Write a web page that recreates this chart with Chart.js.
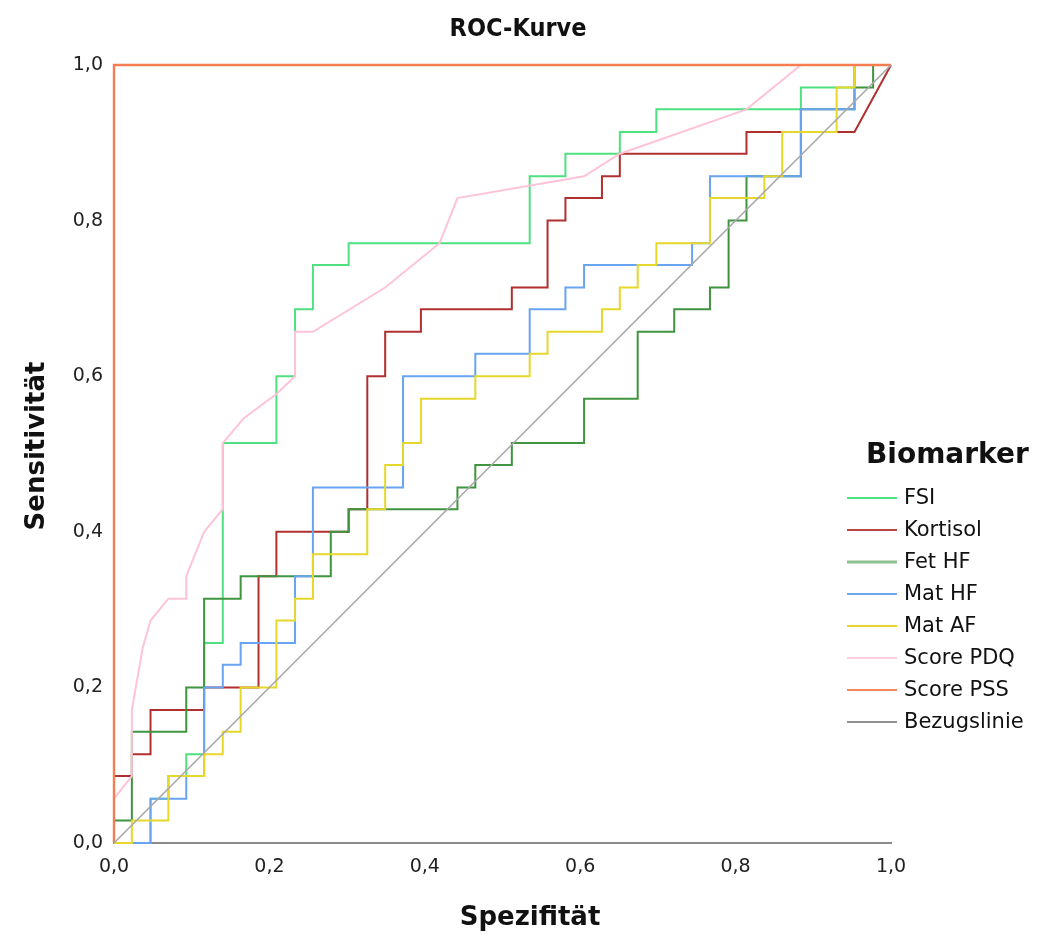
<!DOCTYPE html>
<html>
<head>
<meta charset="utf-8">
<script src="https://cdn.jsdelivr.net/npm/chart.js@4.4.0/dist/chart.umd.min.js"></script>
<style>
html,body{margin:0;padding:0;background:#ffffff;}
#wrap{width:1058px;height:942px;position:relative;}
canvas{display:block;}
</style>
</head>
<body>
<div id="wrap"><canvas id="c" width="1058" height="942"></canvas></div>
<script>
// ---- Data (x = 1 - Spezifität, y = Sensitivität) ----
const seriesNames = ["FSI","Kortisol","Fet HF","Mat HF","Mat AF","Score PDQ","Score PSS","Bezugslinie"];
const tickValues = [0, 0.2, 0.4, 0.6, 0.8, 1.0];

const fsiX = [0,0.047,0.047,0.070,0.070,0.093,0.093,0.116,0.116,0.140,0.140,0.209,0.209,0.233,0.233,0.256,0.256,0.302,0.302,0.535,0.535,0.581,0.581,0.651,0.651,0.698,0.698,0.884,0.884,0.953,0.953,1];
const fsiY = [0,0,0.057,0.057,0.086,0.086,0.114,0.114,0.257,0.257,0.514,0.514,0.600,0.600,0.686,0.686,0.743,0.743,0.771,0.771,0.857,0.857,0.886,0.886,0.914,0.914,0.943,0.943,0.971,0.971,1,1];

const kortisolX = [0,0,0.023,0.023,0.047,0.047,0.116,0.116,0.186,0.186,0.209,0.209,0.302,0.302,0.326,0.326,0.349,0.349,0.395,0.395,0.512,0.512,0.558,0.558,0.581,0.581,0.628,0.628,0.651,0.651,0.814,0.814,0.953,1];
const kortisolY = [0,0.086,0.086,0.114,0.114,0.171,0.171,0.200,0.200,0.343,0.343,0.400,0.400,0.429,0.429,0.600,0.600,0.657,0.657,0.686,0.686,0.714,0.714,0.800,0.800,0.829,0.829,0.857,0.857,0.886,0.886,0.914,0.914,1];

const fetHfX = [0,0,0.023,0.023,0.093,0.093,0.116,0.116,0.163,0.163,0.279,0.279,0.302,0.302,0.442,0.442,0.465,0.465,0.512,0.512,0.605,0.605,0.674,0.674,0.721,0.721,0.767,0.767,0.791,0.791,0.814,0.814,0.884,0.884,0.953,0.953,0.977,0.977,1];
const fetHfY = [0,0.029,0.029,0.143,0.143,0.200,0.200,0.314,0.314,0.343,0.343,0.400,0.400,0.429,0.429,0.457,0.457,0.486,0.486,0.514,0.514,0.571,0.571,0.657,0.657,0.686,0.686,0.714,0.714,0.800,0.800,0.857,0.857,0.943,0.943,0.971,0.971,1,1];

const matHfX = [0,0.047,0.047,0.093,0.093,0.116,0.116,0.140,0.140,0.163,0.163,0.233,0.233,0.256,0.256,0.372,0.372,0.465,0.465,0.535,0.535,0.581,0.581,0.605,0.605,0.744,0.744,0.767,0.767,0.884,0.884,0.953,0.953,1];
const matHfY = [0,0,0.057,0.057,0.086,0.086,0.200,0.200,0.229,0.229,0.257,0.257,0.343,0.343,0.457,0.457,0.600,0.600,0.629,0.629,0.686,0.686,0.714,0.714,0.743,0.743,0.771,0.771,0.857,0.857,0.943,0.943,1,1];

const matAfX = [0,0.023,0.023,0.070,0.070,0.116,0.116,0.140,0.140,0.163,0.163,0.209,0.209,0.233,0.233,0.256,0.256,0.326,0.326,0.349,0.349,0.372,0.372,0.395,0.395,0.465,0.465,0.535,0.535,0.558,0.558,0.628,0.628,0.651,0.651,0.674,0.674,0.698,0.698,0.767,0.767,0.837,0.837,0.860,0.860,0.930,0.930,0.953,0.953,1];
const matAfY = [0,0,0.029,0.029,0.086,0.086,0.114,0.114,0.143,0.143,0.200,0.200,0.286,0.286,0.314,0.314,0.371,0.371,0.429,0.429,0.486,0.486,0.514,0.514,0.571,0.571,0.600,0.600,0.629,0.629,0.657,0.657,0.686,0.686,0.714,0.714,0.743,0.743,0.771,0.771,0.829,0.829,0.857,0.857,0.914,0.914,0.971,0.971,1,1];

const pdqX = [0,0,0.023,0.023,0.028,0.037,0.047,0.070,0.093,0.093,0.116,0.140,0.140,0.167,0.209,0.233,0.233,0.256,0.349,0.419,0.442,0.605,0.651,0.814,0.884,1];
const pdqY = [0,0.057,0.086,0.171,0.200,0.251,0.286,0.314,0.314,0.343,0.400,0.429,0.514,0.546,0.577,0.600,0.657,0.657,0.714,0.771,0.829,0.857,0.886,0.943,1,1];

const pssX = [0,0,1];
const pssY = [0,1,1];

const refX = [0,1];
const refY = [0,1];

const seriesColors = ["#4fe07f","#b03030","#3f943f","#68a4f2","#e6d82a","#ffc3d9","#f47d52","#a8a8a8"];
const legendColors = ["#4fe07f","#b84848","#8cc08c","#6fa8f2","#e6d82a","#ffcfe0","#f4865c","#909090"];

// ---- Build datasets ----
function pts(xs, ys){ return xs.map((x,i)=>({x:x, y:ys[i]})); }
const xsList = [fsiX,kortisolX,fetHfX,matHfX,matAfX,pdqX,pssX,refX];
const ysList = [fsiY,kortisolY,fetHfY,matHfY,matAfY,pdqY,pssY,refY];
const datasets = seriesNames.map((name,k)=>({
  label: name,
  data: pts(xsList[k], ysList[k]),
  showLine: true,
  borderColor: seriesColors[k],
  backgroundColor: seriesColors[k],
  borderWidth: k===7 ? 1.6 : (k===6 ? 2.4 : 2),
  pointRadius: 0,
  pointHoverRadius: 0,
  tension: 0,
  fill: false,
  clip: false,
  order: seriesNames.length - k
}));

const fmt = v => v.toFixed(1).replace('.', ',');

const textPlugin = {
  id: 'texts',
  afterDraw(chart){
    const ctx = chart.ctx;
    ctx.save();
    ctx.fillStyle = '#111';
    // chart title
    ctx.font = 'bold 25px "DejaVu Sans Condensed", "DejaVu Sans"';
    ctx.textAlign = 'center';
    ctx.textBaseline = 'middle';
    ctx.fillText('ROC-Kurve', 518, 29);
    // axis titles
    ctx.font = 'bold 26px "DejaVu Sans"';
    ctx.fillText('Spezifität', 530, 918);
    ctx.save();
    ctx.translate(37, 446);
    ctx.rotate(-Math.PI/2);
    ctx.fillText('Sensitivität', 0, 0);
    ctx.restore();
    // legend
    ctx.font = 'bold 28px "DejaVu Sans"';
    ctx.textAlign = 'left';
    ctx.fillText('Biomarker', 866, 456);
    ctx.font = '21px "DejaVu Sans"';
    const rowY = [498, 530, 562, 594, 626, 658, 690, 722];
    seriesNames.forEach((name, k)=>{
      ctx.strokeStyle = legendColors[k];
      ctx.lineWidth = k===2 ? 3 : 2;
      ctx.beginPath();
      ctx.moveTo(847, rowY[k]);
      ctx.lineTo(897, rowY[k]);
      ctx.stroke();
      ctx.fillStyle = '#111';
      ctx.fillText(name, 904, rowY[k] + 1);
    });
    ctx.restore();
  }
};

new Chart(document.getElementById('c'), {
  type: 'scatter',
  data: { datasets },
  options: {
    responsive: false,
    animation: false,
    devicePixelRatio: 1,
    layout: { padding: { left: 0, right: 167, top: 65, bottom: 0 } },
    plugins: {
      legend: { display: false },
      title: { display: false },
      tooltip: { enabled: false }
    },
    scales: {
      x: {
        type: 'linear', min: 0, max: 1,
        afterBuildTicks: s => { s.ticks = tickValues.map(v=>({value:v})); },
        afterFit: s => { s.height = 99; },
        grid: { display: false, drawTicks: false },
        border: { display: true, color: '#8a8a8a', width: 2 },
        ticks: { callback: v => fmt(v), padding: 13, color: '#222', font: { family: '"DejaVu Sans", sans-serif', size: 19 }, maxRotation: 0 }
      },
      y: {
        type: 'linear', min: 0, max: 1,
        afterBuildTicks: s => { s.ticks = tickValues.map(v=>({value:v})); },
        afterFit: s => { s.width = 114; },
        grid: { display: false, drawTicks: false },
        border: { display: true, color: '#8a8a8a', width: 2 },
        ticks: { callback: v => fmt(v), padding: 11, color: '#222', font: { family: '"DejaVu Sans", sans-serif', size: 19 } }
      }
    }
  },
  plugins: [textPlugin]
});
</script>
</body>
</html>
